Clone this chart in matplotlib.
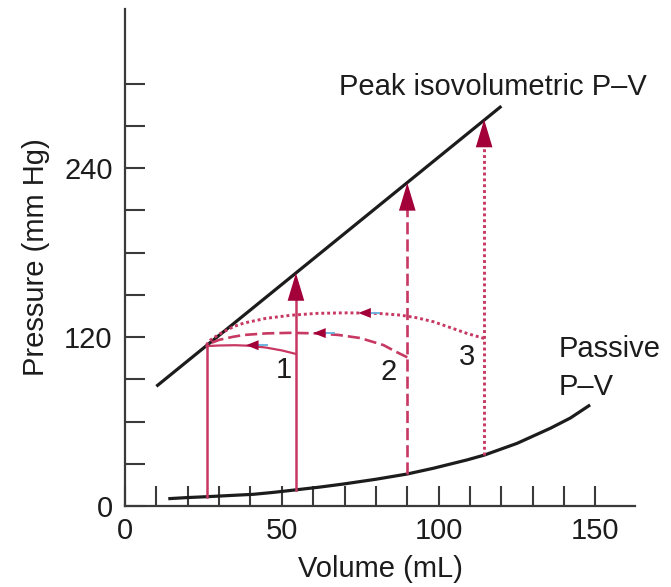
import numpy as np
import matplotlib
matplotlib.use("Agg")
import matplotlib.pyplot as plt

plt.rcParams['font.family'] = ['Liberation Sans', 'DejaVu Sans']

# passive filling curve (volume mL, pressure mmHg)
passive_v = [13.8, 20, 26, 33, 40.9, 47, 54.2, 62, 69.6, 80, 89.9, 98.3, 109, 114.6, 125, 135.6, 142, 148.3]
passive_p = [5.2, 6, 6.6, 7.4, 8.3, 9.6, 11.4, 13.4, 15.6, 19, 22.7, 26.8, 32.7, 36.2, 44.5, 55.2, 62.5, 71.8]

# peak isovolumetric line end points
peak_v = [10, 120]
peak_p = [85, 284]

# vertical isovolumetric contractions: volume, start pressure, peak pressure
iso_v = [26, 54.5, 90, 114.5]
iso_p0 = [6.6, 11.5, 22.7, 36.2]
iso_p1 = [113.6, 165.5, 229.5, 274.5]
iso_style = ['-', '-', (0, (4.6, 1.9)), (0, (1, 1))]
iso_lw = [1.8, 1.8, 1.9, 2.1]
iso_arrow = [False, True, True, True]

# ejection arcs back to the end-systolic point
arc1_v = [54.5, 50, 45, 40, 35, 30, 26]
arc1_p = [108, 110.5, 112.5, 113.8, 114.2, 114, 113.6]
arc2_v = [90, 86, 82.4, 75, 68, 61, 53, 45, 38, 34.5, 30, 26]
arc2_p = [105.6, 110, 114.3, 119.3, 121.5, 122.6, 123, 122.6, 121.5, 120.2, 118, 114.5]
arc3_v = [114.5, 109, 104, 98.3, 93, 87.7, 82, 77, 70, 61, 53, 45, 38, 34.5, 30, 27, 26]
arc3_p = [119, 122.6, 126.5, 130.9, 133.7, 135.6, 136.6, 137, 137.2, 136.8, 135.5, 133.3, 130, 127.3, 122, 117.5, 114.5]
arc_heads = [(38.6, 114.2), (60, 122.8), (74.4, 137.1)]
arc_labels = ['1', '2', '3']
label_v = [50.7, 84, 109]
label_p = [96.7, 95.5, 105.9]

red = '#c73862'
dark_red = '#a3003a'
ink = '#1c1c1c'
grey = '#3a3a3a'

fig = plt.figure(figsize=(6.71, 5.87), dpi=100)
ax = fig.add_axes([125 / 671, 81 / 587, 510 / 671, 497 / 587])
ax.set_xlim(0, 162.6)
ax.set_ylim(0, 353)

for s in ['top', 'right']:
    ax.spines[s].set_visible(False)
for s in ['left', 'bottom']:
    ax.spines[s].set_color(grey)
    ax.spines[s].set_linewidth(1.6)

ax.set_xticks(np.arange(0, 151, 10))
ax.set_xticklabels([str(v) if v % 50 == 0 else '' for v in range(0, 151, 10)])
ax.set_yticks(np.arange(0, 301, 30))
ax.set_yticklabels([str(v) if v % 120 == 0 else '' for v in range(0, 301, 30)])
ax.tick_params(direction='in', length=14.5, width=1.5, color=grey,
               labelsize=21, labelcolor=ink)
ax.tick_params(axis='x', pad=8)
ax.tick_params(axis='y', pad=9)

ax.set_xlabel('Volume (mL)', fontsize=21, color=ink, labelpad=7)
ax.set_ylabel('Pressure (mm Hg)', fontsize=21, color=ink, labelpad=10)

ax.plot(peak_v, peak_p, color=ink, lw=2.3, solid_capstyle='butt')
ax.plot(passive_v, passive_p, color=ink, lw=2.3, solid_capstyle='butt',
        solid_joinstyle='round')

for v, p0, p1, ls, lw, has_head in zip(iso_v, iso_p0, iso_p1, iso_style, iso_lw, iso_arrow):
    top = p1 - 12 if has_head else p1
    ax.plot([v, v], [p0, top], color=red, lw=lw, linestyle=ls)
    if has_head:
        ax.annotate('', xy=(v, p1), xytext=(v, p1 - 20),
                    arrowprops=dict(arrowstyle='-|>,head_length=1.0,head_width=0.3',
                                    mutation_scale=20, color=dark_red, lw=0,
                                    shrinkA=0, shrinkB=0))

ax.plot(arc1_v, arc1_p, color=red, lw=1.6)
ax.plot(arc2_v, arc2_p, color=red, lw=1.9, linestyle=(0, (4.6, 1.9)))
ax.plot(arc3_v, arc3_p, color=red, lw=2.1, linestyle=(0, (1, 1)))

for hv, hp in arc_heads:
    ax.plot([hv + 3.4, hv + 6.6], [hp, hp], color='#6cb4e0', lw=1.4)
    ax.annotate('', xy=(hv, hp), xytext=(hv + 3.8, hp),
                arrowprops=dict(arrowstyle='-|>,head_length=0.75,head_width=0.3',
                                mutation_scale=12, color=dark_red, lw=0,
                                shrinkA=0, shrinkB=0))

for t, lv, lp in zip(arc_labels, label_v, label_p):
    ax.text(lv, lp, t, fontsize=21, color=ink, ha='center', va='center')

ax.text(68.3, 292, 'Peak isovolumetric P–V', fontsize=21, color=ink,
        ha='left', va='baseline')
ax.text(138.1, 106, 'Passive', fontsize=21, color=ink, ha='left', va='baseline', clip_on=False)
ax.text(138.1, 79, 'P–V', fontsize=21, color=ink, ha='left', va='baseline', clip_on=False)

fig.savefig('out.png', dpi=100)
